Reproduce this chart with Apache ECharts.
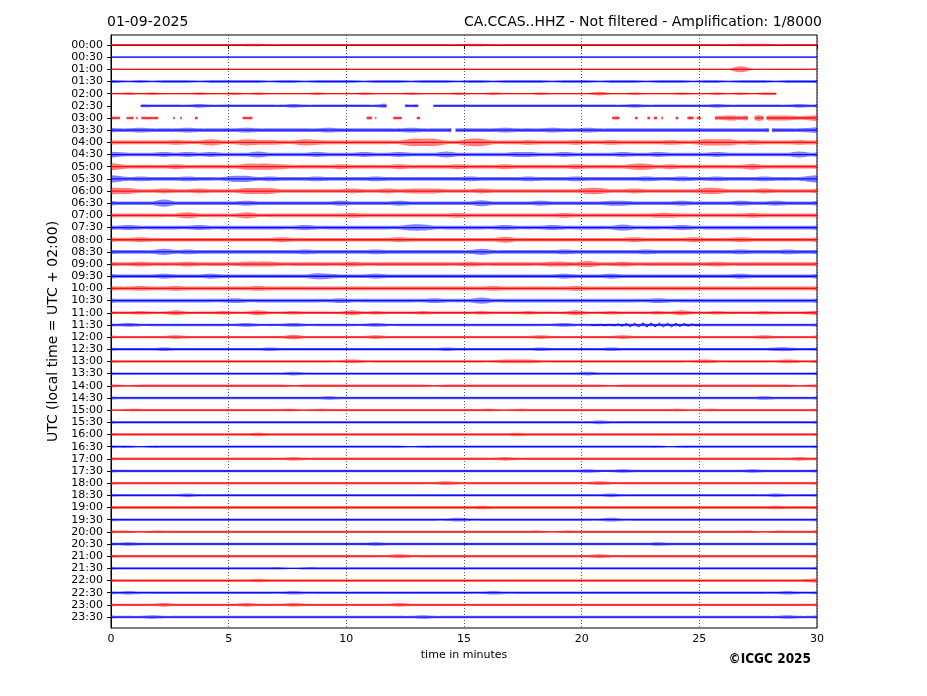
<!DOCTYPE html>
<html><head><meta charset="utf-8">
<script src="https://cdn.jsdelivr.net/npm/echarts@6/dist/echarts.min.js"></script>
<style>html,body{margin:0;padding:0;background:#fff}#c{width:927px;height:696px}</style>
</head><body><div id="c"></div>
<script>
// Row (tick) labels, one per half-hour trace
const rowLabels = ['00:00','00:30','01:00','01:30','02:00','02:30','03:00','03:30','04:00','04:30','05:00','05:30',
  '06:00','06:30','07:00','07:30','08:00','08:30','09:00','09:30','10:00','10:30','11:00','11:30',
  '12:00','12:30','13:00','13:30','14:00','14:30','15:00','15:30','16:00','16:30','17:00','17:30',
  '18:00','18:30','19:00','19:30','20:00','20:30','21:00','21:30','22:00','22:30','23:00','23:30'];
const xTicks = [0, 5, 10, 15, 20, 25, 30];

// Amplitude envelope per trace, one digit per half-minute (levels)
const rowAmplitudes = [
  '1111111111 1221111111 1111111111 2211111111 1111111111 1112221111',
  '1111111111 1111111111 1111111111 1111111111 1111111111 1111111111',
  '1111111111 1111111111 1111111111 1111111111 1111111111 1115111111',
  '2121222122 2221221222 2122212221 2212222122 2122212221 2212221222',
  '1212111211 2121111211 1211121112 1121112111 1311211121 1212122211',
  '2222222322 2222232222 2223222222 2222222222 2222322222 2322222232',
  '2222222222 2222222222 2222222222 2222222222 2222222222 2343434434',
  '3343334333 3433333343 3333343333 3334333433 4333333333 3333333334',
  '3333343353 3544335433 3333366633 6633343334 3343333433 5553433343',
  '4333434343 3353333433 3433433353 3333443343 3334334333 3433333353',
  '5333343333 3555433334 3333433334 3334333334 3333553433 3333533333',
  '5343334333 5534333433 3343333333 4333343334 3333343343 3433343335',
  '5533433433 3555333333 4334344433 3433333333 5533433333 5533343333',
  '3333633333 3433333334 3333433333 3533334333 3344333343 3334334333',
  '3333335333 3533333333 4333333334 3333333343 3333334433 3333433333',
  '3433333433 3333334333 3333355333 3334333433 3335333343 3333333333',
  '3343333333 3333433333 3333433333 3335333333 3333433334 3334333333',
  '3333534333 3333334333 3343333333 3533333343 3333343333 3334333433',
  '3343334333 3444333333 4333333333 4333333443 5334333333 3433333333',
  '3333433343 3333333543 3343333333 3333333343 3343333333 3334333333',
  '3343343333 3343333333 3333333333 3343333334 3333333333 3333333333',
  '3333333333 4333333334 3333333433 3533333333 3333334333 3333333333',
  '2232242223 2242232222 4232223222 2322232224 2232223242 2322232223',
  '2322222222 2322232222 2232222222 2222222232 2222222222 2222222222',
  '2222232222 2222242222 2232222222 2222223222 2223222222 2222232222',
  '2222322222 2223222222 2222222232 2222223222 2232222222 2222223322',
  '2222222222 2222222222 3222222222 2223332222 2222222222 3222222322',
  '2222222222 2222232222 2222222222 2222222222 3222222222 2222222222',
  '2122222222 2222212222 2222222122 2222222222 2212222222 2222222212',
  '2222222222 2222222232 2222222222 2222222222 2222222222 2222232222',
  '1222222222 2222221222 2222222222 2221222222 2222222221 2222222222',
  '2222222222 2222222222 2222222222 2222222222 2322222222 2222222222',
  '2222222222 2232222222 2222222222 2222322222 2222222222 2222222222',
  '2212222222 2222222222 2222212222 2222222222 2222222122 2222222222',
  '2222222222 2222232222 2222222222 2223222222 2222222222 2222222232',
  '2222222222 2222222222 2222222222 2222222222 3223222222 2222322222',
  '2222222222 2222222222 2222222232 2222222222 2322222222 2222222222',
  '2222223222 2222222222 2222222222 2222222222 2232222222 2222223222',
  '2222222222 2222222222 2222222222 2322222222 2222222222 2222223222',
  '2222222222 2222222222 2222222223 2222222222 2232222222 2222222222',
  '2212222222 2222222222 2222222222 2222222122 2222222222 2222212222',
  '2322222222 2222222222 2232222222 2222222222 2222223222 2222222222',
  '2222222222 2222222222 2222322222 2222222222 2322222222 2222222222',
  '2222222222 2222212222 2222222222 2222222222 2222222222 2222222222',
  '2222222222 2232222222 2222222222 2222222222 2222222222 2222222223',
  '2322222222 2222232222 2222222222 2232222222 2222222222 2222222322',
  '2222322222 2322232222 2222322222 2222222222 2222222222 2222222222',
  '2223222222 2222222222 2222223222 2222222222 2222222222 2222222322'
];

// Recorded stretches (minutes) for traces that have gaps; other traces run 0-30
const rowSegments = {
  4: [[0, 28.27]],
  5: [[1.27, 11.7], [12.5, 13.05], [13.7, 30]],
  6: [[0.03, 0.38], [0.67, 0.95], [1.08, 1.12], [1.3, 2.0], [2.65, 2.7], [2.95, 3.0], [3.57, 3.68],
      [5.6, 6.0], [10.87, 11.08], [11.23, 11.27], [12.0, 12.35], [13.0, 13.13], [21.3, 21.6],
      [22.27, 22.37], [22.8, 22.9], [23.07, 23.2], [23.4, 23.45], [24.0, 24.1], [24.5, 24.75],
      [24.9, 25.06], [25.67, 26.6], [26.63, 27.05], [27.37, 27.72], [27.87, 30]],
  7: [[0, 14.45], [14.65, 27.95], [28.1, 30]]
};

// Regular oscillation on the 11:30 trace: [minute, offset in trace units]
const wiggle1130 = [
  [20.4, 0], [20.6, 0.04], [20.8, -0.04], [21.0, 0.05], [21.2, -0.05], [21.38, 0.07], [21.55, -0.08],
  [21.72, 0.1], [21.9, -0.12], [22.07, 0.15], [22.25, -0.15], [22.42, 0.18], [22.6, -0.18],
  [22.77, 0.18], [22.95, -0.18], [23.12, 0.17], [23.3, -0.16], [23.47, 0.16], [23.65, -0.15],
  [23.82, 0.15], [24.0, -0.14], [24.17, 0.13], [24.35, -0.12], [24.52, 0.1], [24.7, -0.08],
  [24.87, 0.06], [25.0, 0]
];

const traceColors = ['#ff0000', '#0000ff'];
const SLOT = 0.5;      // minutes per envelope digit
const AMP_UNIT = 0.05; // trace units per envelope level

function levels(i) { return rowAmplitudes[i].replace(/\s/g, '').split('').map(Number); }
function ampAt(lv, t) {
  const p = t / SLOT - 0.5;
  if (p <= 0) return lv[0];
  if (p >= lv.length - 1) return lv[lv.length - 1];
  const k = Math.floor(p), f = p - k;
  return lv[k] * (1 - f) + lv[k + 1] * f;
}

function renderItem(params, api) {
  const row = api.value(0);
  const lv = levels(row);
  const segs = rowSegments[row] || [[0, 30]];
  const color = traceColors[row % 2];
  const children = [];
  segs.forEach(([s, e]) => {
    const ts = [s];
    for (let k = 0; k < lv.length; k++) { const c = (k + 0.5) * SLOT; if (c > s && c < e) ts.push(c); }
    ts.push(e);
    const up = ts.map(t => api.coord([t, row - ampAt(lv, t) * AMP_UNIT]));
    const dn = ts.map(t => api.coord([t, row + ampAt(lv, t) * AMP_UNIT])).reverse();
    children.push({ type: 'polygon', shape: { points: up.concat(dn), smooth: 0.35 }, style: { fill: color, opacity: 0.5 } });
    children.push({ type: 'polyline', shape: { points: [api.coord([s, row]), api.coord([e, row])] },
      style: { stroke: color, lineWidth: 1.3, fill: null, opacity: 0.9 } });
  });
  if (row === 23) {
    children.push({ type: 'polyline', shape: { points: wiggle1130.map(([t, o]) => api.coord([t, row + o])) },
      style: { stroke: color, lineWidth: 1, fill: null } });
  }
  return { type: 'group', children };
}

const chart = echarts.init(document.getElementById('c'), null, { renderer: 'canvas' });
const FONT = 'DejaVu Sans';
chart.setOption({
  animation: false,
  backgroundColor: '#fff',
  textStyle: { fontFamily: FONT },
  title: [
    { text: '01-09-2025', left: 102, top: 10, textStyle: { fontFamily: FONT, fontSize: 14, fontWeight: 'normal', color: '#000' } },
    { text: 'CA.CCAS..HHZ - Not filtered - Amplification: 1/8000', right: 100, top: 10,
      textStyle: { fontFamily: FONT, fontSize: 14, fontWeight: 'normal', color: '#000' } },
    { text: '©ICGC 2025', right: 111, top: 647,
      textStyle: { fontFamily: 'DejaVu Sans Condensed', fontSize: 13.5, fontWeight: 'bold', color: '#000' } }
  ],
  grid: { left: 111, right: 110, top: 35, bottom: 68, show: true, borderColor: '#000', borderWidth: 1, containLabel: false },
  xAxis: {
    type: 'value', min: xTicks[0], max: xTicks[xTicks.length - 1], interval: 5,
    name: 'time in minutes', nameLocation: 'middle', nameGap: 22,
    nameTextStyle: { fontFamily: FONT, fontSize: 11, color: '#000' },
    axisLine: { show: true, lineStyle: { color: '#000', width: 1 } },
    axisTick: { show: true, inside: false, length: 4, lineStyle: { color: '#000' } },
    axisLabel: { fontFamily: FONT, fontSize: 11, color: '#000', margin: 6 },
    splitLine: { show: true, lineStyle: { color: '#333', type: [1, 2], width: 0.8 } }
  },
  yAxis: {
    type: 'value', inverse: true, min: -0.82, max: 47.9,
    name: 'UTC (local time = UTC + 02:00)', nameLocation: 'middle', nameGap: 46, nameRotate: 90,
    nameTextStyle: { fontFamily: FONT, fontSize: 14, color: '#000' },
    axisLine: { show: true, lineStyle: { color: '#000', width: 1 } },
    axisTick: { show: true, inside: false, length: 4, lineStyle: { color: '#000' }, customValues: rowLabels.map((_, i) => i) },
    axisLabel: { fontFamily: FONT, fontSize: 11, color: '#000', margin: 8,
      customValues: rowLabels.map((_, i) => i), formatter: v => rowLabels[Math.round(v)] },
    splitLine: { show: false }
  },
  series: [{
    type: 'custom', renderItem, clip: true,
    data: rowLabels.map((_, i) => [i]),
    encode: { y: 0 },
    silent: true
  }]
});
</script>
</body></html>
